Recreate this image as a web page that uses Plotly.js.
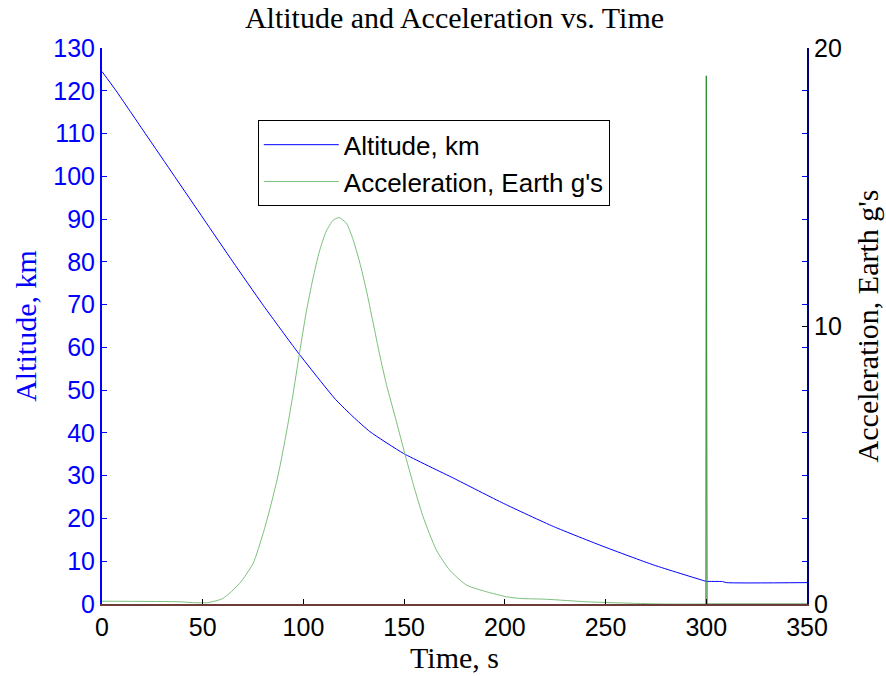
<!DOCTYPE html>
<html>
<head>
<meta charset="utf-8">
<script src="https://cdn.plot.ly/plotly-3.0.1.min.js"></script>
<style>html,body{margin:0;padding:0;background:#fff;}#chart{width:886px;height:676px;}</style>
</head>
<body>
<div id="chart"></div>
<script>
// Altitude (km) vs time (s)
var altTime = [0, 7, 21.5, 36, 50.5, 65, 79.5, 96, 108, 116, 124.6, 133, 149.7, 174.6, 199.4, 224.2, 249.2, 274, 298.8, 300, 308, 310, 350];
var altitude = [124.5, 120, 110, 100, 90, 80, 70.2, 59.6, 52.4, 47.8, 43.8, 40.3, 35.2, 29.4, 23.5, 18.1, 13.4, 9.1, 5.45, 5.3, 5.25, 5.0, 5.0];

// Acceleration (Earth g's) vs time (s)
var accTime = [0, 38.5, 45, 52.6, 60, 68.3, 75, 80, 83.2, 86.5, 88.2, 91.5, 94.5, 98.1, 101.4, 104.7, 108, 111.4, 114.7, 117.6, 121.3, 124.6, 127.9, 131.2, 134.5, 137.9, 141.2, 146.2, 150.3, 154.4, 159.4, 166, 172.6, 181, 190.9, 200.8, 207.4, 220.7, 240.5, 263.7, 280, 299.8];
var accel = [0.1, 0.08, 0.05, 0.05, 0.2, 0.74, 1.46, 2.54, 3.38, 4.34, 4.9, 6.15, 7.4, 9.05, 10.5, 11.7, 12.7, 13.42, 13.8, 13.9, 13.7, 13.12, 12.3, 11.3, 10.15, 8.95, 7.9, 6.55, 5.42, 4.34, 3.14, 1.94, 1.22, 0.68, 0.44, 0.26, 0.2, 0.17, 0.08, 0.025, 0.0, 0.0];

// Spike at t = 300 s
var spikeTime = [299.8, 300, 300.4, 350];
var spikeAcc = [0.0, 19.0, 0.0, 0.0];

var xTicks = [0, 50, 100, 150, 200, 250, 300, 350];
var altTicks = [0, 10, 20, 30, 40, 50, 60, 70, 80, 90, 100, 110, 120, 130];
var accTicks = [0, 10, 20];

var sans = 'Liberation Sans, Arial, sans-serif';
var serif = 'Liberation Serif, Times New Roman, serif';

var traces = [
  {x: altTime, y: altitude, type: 'scatter', mode: 'lines', name: 'Altitude, km',
   line: {color: '#0000ff', width: 1, shape: 'spline', smoothing: 0.5}, xaxis: 'x', yaxis: 'y'},
  {x: accTime, y: accel, type: 'scatter', mode: 'lines', name: "Acceleration, Earth g's",
   line: {color: '#7cc07c', width: 1, shape: 'spline', smoothing: 0.6}, xaxis: 'x', yaxis: 'y2'},
  {x: spikeTime, y: spikeAcc, type: 'scatter', mode: 'lines', showlegend: false,
   line: {color: '#2a8a2a', width: 1}, xaxis: 'x', yaxis: 'y2'}
];

var layout = {
  width: 886, height: 676,
  margin: {l: 102, r: 79, t: 48, b: 72},
  paper_bgcolor: '#fff', plot_bgcolor: '#fff',
  showlegend: true,
  title: {text: 'Altitude and Acceleration vs. Time', font: {family: serif, size: 30, color: '#000'},
          x: 0.5, xref: 'paper', xanchor: 'center', y: 0.974, yanchor: 'middle'},
  xaxis: {range: [0, 350], tickvals: xTicks, ticks: 'inside', ticklen: 5, tickcolor: '#000',
          showline: true, linecolor: '#6e3a3a', linewidth: 2, showgrid: false, zeroline: false,
          tickfont: {family: sans, size: 25, color: '#000'},
          title: {text: 'Time, s', font: {family: serif, size: 30, color: '#000'}, standoff: 0}},
  xaxis2: {range: [0, 350], overlaying: 'x', side: 'top', anchor: 'y', tickvals: xTicks,
           ticks: 'inside', ticklen: 5, tickcolor: '#000', showticklabels: false,
           showline: true, linecolor: '#000', linewidth: 1, showgrid: false, zeroline: false},
  yaxis: {range: [0, 130], tickvals: altTicks, ticks: 'inside', ticklen: 5, tickcolor: '#0000ff',
          showline: true, linecolor: '#0000ff', linewidth: 2, mirror: 'ticks', showgrid: false, zeroline: false,
          tickfont: {family: sans, size: 25, color: '#0000ff'},
          title: {text: 'Altitude, km', font: {family: serif, size: 30, color: '#0000ff'}, standoff: 8}},
  yaxis2: {range: [0, 20], tickvals: accTicks, overlaying: 'y', side: 'right', anchor: 'x',
           ticks: 'inside', ticklen: 5, tickcolor: '#000',
           showline: true, linecolor: '#00007a', linewidth: 2, showgrid: false, zeroline: false,
           tickfont: {family: sans, size: 25, color: '#000'},
           title: {text: "Acceleration, Earth g's", font: {family: serif, size: 30, color: '#000'}, standoff: 16}},
  legend: {x: 0.221, y: 0.870, xanchor: 'left', yanchor: 'top', itemwidth: 75,
           bordercolor: '#000', borderwidth: 1, bgcolor: '#fff',
           font: {family: sans, size: 26, color: '#000'}}
};

Plotly.newPlot('chart', traces, layout, {displayModeBar: false, staticPlot: true});
</script>
</body>
</html>
